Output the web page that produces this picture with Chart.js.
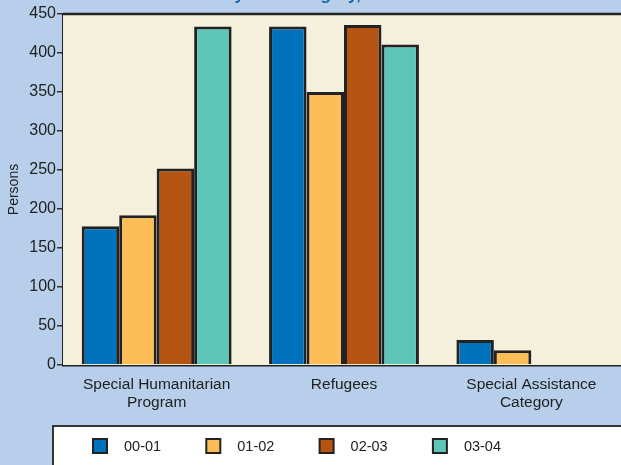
<!DOCTYPE html>
<html lang="en">
<head>
<meta charset="UTF-8">
<title>Humanitarian entrants by category</title>
<script src="https://cdn.jsdelivr.net/npm/chart.js"></script>
<style>
    body { margin: 0; overflow: hidden; background-color: #b7cfea; }
    #wrap { width: 626px; height: 465px; }
</style>
</head>
<body>
<div id="wrap"><canvas id="chart" width="626" height="465"></canvas></div>
<script>
    const categories = [['Special Humanitarian', 'Program'], 'Refugees', ['Special Assistance', 'Category']];
    const seriesNames = ['00-01', '01-02', '02-03', '03-04'];
    const v0001 = [178, 434, 32];
    const v0102 = [192, 350, 19];
    const v0203 = [252, 436, 0];
    const v0304 = [434, 411, 0];
    const yTicks = [0, 50, 100, 150, 200, 250, 300, 350, 400, 450];

    const colors = ['#0072bc', '#fdbe57', '#b45312', '#5dc6b8'];
    const values = [v0001, v0102, v0203, v0304];

    // plot background, cut-off title and the boxed legend
    const decor = {
        id: 'decor',
        beforeDatasetsDraw(chart) {
            const { ctx, chartArea: a } = chart;
            ctx.save();
            ctx.fillStyle = '#f5f0dc';
            ctx.fillRect(a.left, a.top, a.right - a.left, a.bottom - a.top);
            ctx.strokeStyle = '#222';
            ctx.lineWidth = 2.5;
            ctx.beginPath();
            ctx.moveTo(a.left, a.top);
            ctx.lineTo(chart.width, a.top);
            ctx.stroke();
            ctx.restore();
        },
        afterDraw(chart) {
            const ctx = chart.ctx;
            ctx.save();
            ctx.fillStyle = '#1462ad';
            ctx.font = 'bold 17px "Liberation Sans", Arial, sans-serif';
            ctx.textAlign = 'left';
            ctx.textBaseline = 'alphabetic';
            ctx.fillText('Humanitarian entrants by visa category, 2000-01 to 2003-04', 39, -0.5);

            // legend box
            ctx.fillStyle = '#ffffff';
            ctx.fillRect(53, 426, chart.width, 60);
            ctx.strokeStyle = '#333';
            ctx.lineWidth = 2;
            ctx.strokeRect(53, 426, chart.width, 60);

            ctx.font = '14.5px "Liberation Sans", Arial, sans-serif';
            ctx.textAlign = 'left';
            ctx.textBaseline = 'middle';
            chart.data.datasets.forEach((ds, i) => {
                const x = 93 + i * 113.3;
                ctx.fillStyle = ds.backgroundColor;
                ctx.fillRect(x, 439, 14, 14);
                ctx.strokeStyle = '#222';
                ctx.lineWidth = 2;
                ctx.strokeRect(x, 439, 14, 14);
                ctx.fillStyle = '#222';
                ctx.fillText(ds.label, x + 31, 447);
            });
            ctx.restore();
        }
    };

    new Chart(document.getElementById('chart'), {
        type: 'bar',
        data: {
            labels: categories,
            datasets: seriesNames.map((name, i) => ({
                label: name,
                data: values[i],
                backgroundColor: colors[i],
                borderColor: '#222',
                borderWidth: 3,
                borderSkipped: 'bottom',
                categoryPercentage: 0.8,
                barPercentage: 1.0
            }))
        },
        options: {
            responsive: false,
            animation: false,
            devicePixelRatio: 1,
            layout: { padding: { top: 14, bottom: 40, right: 1, left: 0 } },
            plugins: {
                legend: { display: false },
                tooltip: { enabled: false }
            },
            scales: {
                x: {
                    grid: { display: false },
                    border: { color: '#222', width: 2.5 },
                    ticks: {
                        color: '#222',
                        padding: 2,
                        maxRotation: 0,
                        font: { family: '"Liberation Sans", Arial, sans-serif', size: 15.5, lineHeight: 1.2 }
                    },
                    afterFit(scale) { scale.height = 60; }
                },
                y: {
                    min: 0,
                    max: 450,
                    afterBuildTicks(scale) { scale.ticks = yTicks.map(v => ({ value: v })); },
                    grid: { drawOnChartArea: false, tickLength: 6, color: '#333', lineWidth: 1.5 },
                    border: { color: '#222', width: 2.5 },
                    ticks: {
                        color: '#222',
                        padding: 1,
                        font: { family: '"Liberation Sans", Arial, sans-serif', size: 16 }
                    },
                    title: {
                        display: true,
                        text: 'Persons',
                        color: '#222',
                        padding: { top: 6, bottom: 0 },
                        font: { family: '"Liberation Sans", Arial, sans-serif', size: 14 }
                    },
                    afterFit(scale) { scale.width = 63; }
                }
            }
        },
        plugins: [decor]
    });
</script>
</body>
</html>
